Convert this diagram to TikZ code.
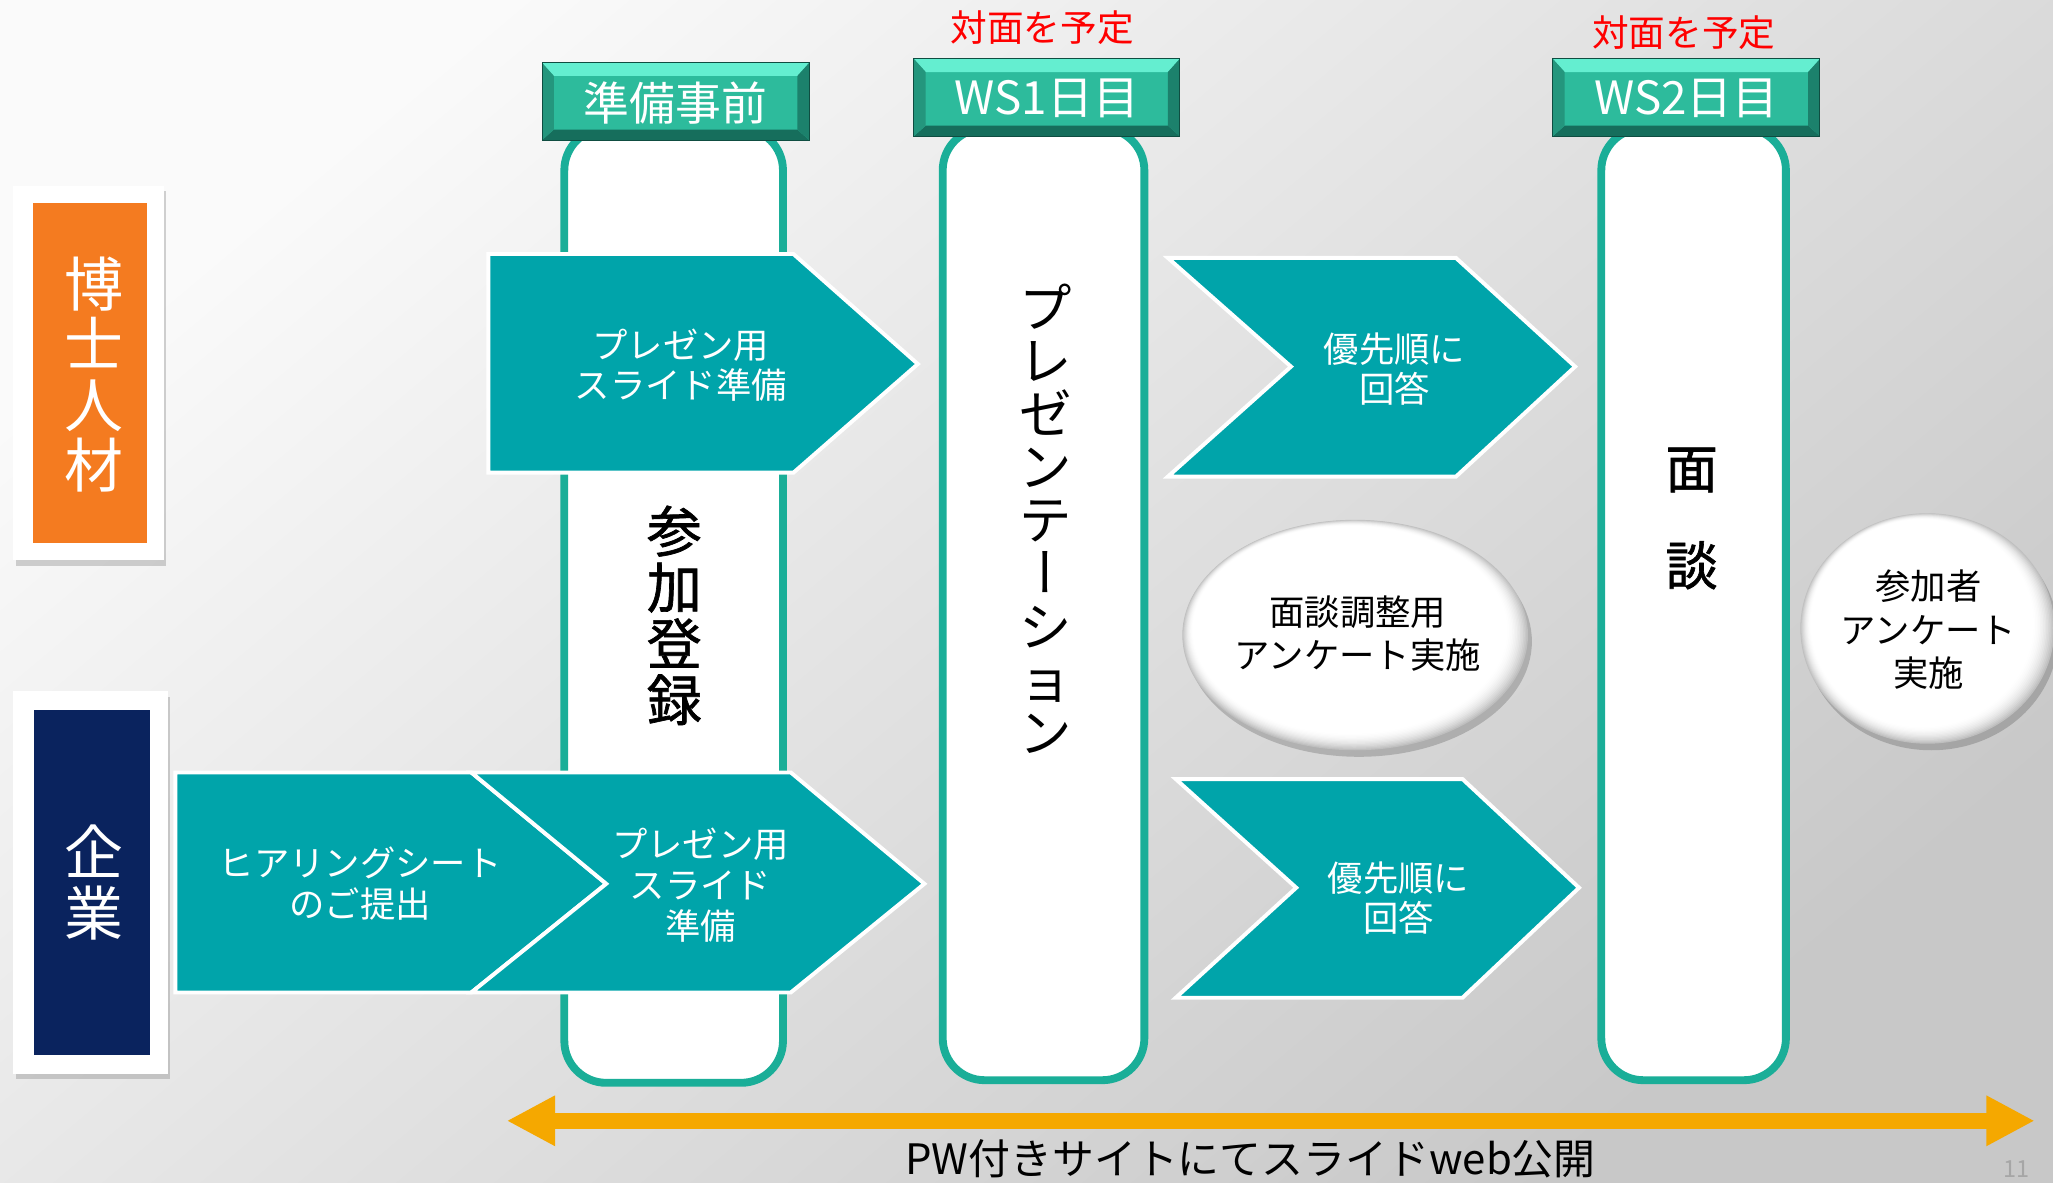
\documentclass[tikz,border=0pt]{standalone}
\usepackage{fontspec}
\setmainfont{Noto Sans CJK JP}
\newfontfamily\medfont[FakeBold=1.2]{Noto Sans CJK JP}
\usetikzlibrary{shadows,arrows.meta}
\definecolor{teal1}{RGB}{0,164,170}
\definecolor{colborder}{RGB}{26,174,152}
\definecolor{hdr}{RGB}{45,187,156}
\definecolor{hdrlight}{RGB}{100,238,208}
\definecolor{hdrdark}{RGB}{22,110,92}
\definecolor{orng}{RGB}{244,123,32}
\definecolor{navy}{RGB}{10,35,94}
\definecolor{arrowor}{RGB}{245,168,0}
\definecolor{bgl}{RGB}{250,250,250}
\definecolor{bgd}{RGB}{200,200,200}
\newcommand\mkheader[6]{%
  \fill[hdr] (#1,#2) rectangle (#3,#4);
  \fill[hdrlight] (#1,#2) -- (#3,#2) -- (#3-9,#2+10) -- (#1+9,#2+10) -- cycle;
  \fill[hdrdark] (#1,#4) -- (#3,#4) -- (#3-9,#4-8) -- (#1+9,#4-8) -- cycle;
  \fill[hdrdark!75!hdr] (#3,#2) -- (#3,#4) -- (#3-9,#4-8) -- (#3-9,#2+10) -- cycle;
  \fill[hdr!80!black] (#1,#2) -- (#1,#4) -- (#1+9,#4-8) -- (#1+9,#2+10) -- cycle;
  \draw[hdrdark!70!black, line width=0.8pt] (#1,#2) rectangle (#3,#4);
  \node[hdrtxt] (#6) at ({(#1+#3)/2},{(#2+#4)/2+1}) {#5};
}
\newcommand\mkoval[5]{%
  \fill[black, opacity=0.18] (#1+3,#2+5) ellipse [x radius=#3pt, y radius=#4pt];
  \foreach \i in {0,...,14}{%
    \pgfmathsetmacro\cc{50*(1-\i/14)^2}
    \fill[gray!\cc!white] (#1-\i*0.3,#2-\i*0.3) ellipse [x radius={(#3-\i*0.9)*1pt}, y radius={(#4-\i*0.65)*1pt}];
  }
  \node (#5) at (#1,#2) {};
}
\tikzset{
  colbox/.style={fill=white, draw=colborder, line width=6pt, rounded corners=32pt},
  tealarrow/.style={fill=teal1, draw=white, line width=3pt, line join=miter},
  arrowtxt/.style={text=white, font=\fontsize{27}{31}\selectfont, align=center, inner sep=0pt},
  ovaltxt/.style={text=black, font=\fontsize{27}{33}\selectfont, align=center, inner sep=0pt},
  hdrtxt/.style={text=white, font=\fontsize{35}{35}\selectfont, inner sep=0pt},
  redtxt/.style={text=red, font=\fontsize{28}{28}\selectfont, inner sep=0pt},
  vtxt/.style={text=white, font=\fontsize{45}{46}\selectfont, align=center, inner sep=0pt},
}
\begin{document}
\begin{tikzpicture}[x=1pt,y=-1pt]
\useasboundingbox (0,0) rectangle (1568,903);
\shade[top color=bgl, bottom color=bgd, shading angle=40] (0,0) rectangle (1568,903);

% left labels
\node (hakaseframe) [fill=white, drop shadow={shadow xshift=2pt, shadow yshift=-4pt, opacity=0.35}, minimum width=115pt, minimum height=286pt, inner sep=0pt] at (67.5,285) {};
\fill[orng] (25,155) rectangle (112,415);
\node[vtxt] (hakase) at (72,286) {博\\士\\人\\材};
\node (kigyoframe) [fill=white, drop shadow={shadow xshift=2pt, shadow yshift=-4pt, opacity=0.35}, minimum width=118pt, minimum height=292pt, inner sep=0pt] at (69,674) {};
\fill[navy] (26,542) rectangle (114.5,806);
\node[vtxt] (kigyo) at (72,674) {企\\業};

% columns
\draw[colbox] (431,98) rectangle (598,827);
\draw[colbox] (720,98) rectangle (874,825);
\draw[colbox] (1223,98) rectangle (1364,825);

% headers
\mkheader{414}{48}{618}{107}{準備事前}{h1}
\mkheader{698}{45}{901}{104}{WS1日目}{h2}
\mkheader{1186}{45}{1390}{104}{WS2日目}{h3}
\node[redtxt] (red1) at (796,21) {対面を予定};
\node[redtxt] (red2) at (1286,25) {対面を予定};

% column texts
\node[font=\fontsize{42}{43}\selectfont\medfont, align=center, inner sep=0pt] (sanka) at (515,470) {参\\加\\登\\録};
\node[font=\fontsize{40}{40.6}\selectfont, align=center, inner sep=0pt] (pres) at (799,396) {プ\\レ\\ゼ\\ン\\テ\\{\addfontfeature{RawFeature=+vert}ー}\\シ\\ョ\\ン};
\node[font=\fontsize{40}{74}\selectfont\medfont, align=center, inner sep=0pt] (mendan) at (1292,396) {面\\談};

% teal arrows
\draw[tealarrow] (373,194) -- (606,194) -- (701,278) -- (606,361) -- (373,361) -- cycle;
\node[arrowtxt] (a1) at (520,279) {プレゼン用\\スライド準備};
\draw[tealarrow] (134,590) -- (360,590) -- (463,675) -- (360,758) -- (134,758) -- cycle;
\node[arrowtxt] (a2) at (275,675) {ヒアリングシート\\のご提出};
\draw[tealarrow] (360,590) -- (604,590) -- (706,675) -- (604,758) -- (360,758) -- (463,675) -- cycle;
\node[arrowtxt] (a3) at (535,676) {プレゼン用\\スライド\\準備};
\draw[tealarrow] (892,197) -- (1112,197) -- (1203,280) -- (1112,364) -- (892,364) -- (986,280) -- cycle;
\node[arrowtxt] (a4) at (1065,282) {優先順に\\回答};
\draw[tealarrow] (898,595) -- (1117,595) -- (1206,678) -- (1117,762) -- (898,762) -- (990,678) -- cycle;
\node[arrowtxt] (a5) at (1068,686) {優先順に\\回答};

% ovals
\mkoval{1035}{485}{132}{88}{o1}
\node[ovaltxt] (o1t) at (1037,484) {面談調整用\\アンケート実施};
\mkoval{1472}{480}{97}{88}{o2}
\node[ovaltxt] (o2t) at (1473,481) {参加者\\アンケート\\実施};

% orange arrow
\coordinate (arL) at (387,856);
\coordinate (arR) at (1554,856);
\draw[arrowor, line width=12pt, {Triangle[length=37pt,width=36pt]}-{Triangle[length=37pt,width=36pt]}] (arL) -- (arR);
\node[font=\fontsize{32}{32}\selectfont, inner sep=0pt] (pw) at (955,885) {PW付きサイトにてスライドweb公開};
\node[font=\fontsize{18}{18}\selectfont, text=gray!70, inner sep=0pt] (pg) at (1540,893) {11};
\end{tikzpicture}
\end{document}
